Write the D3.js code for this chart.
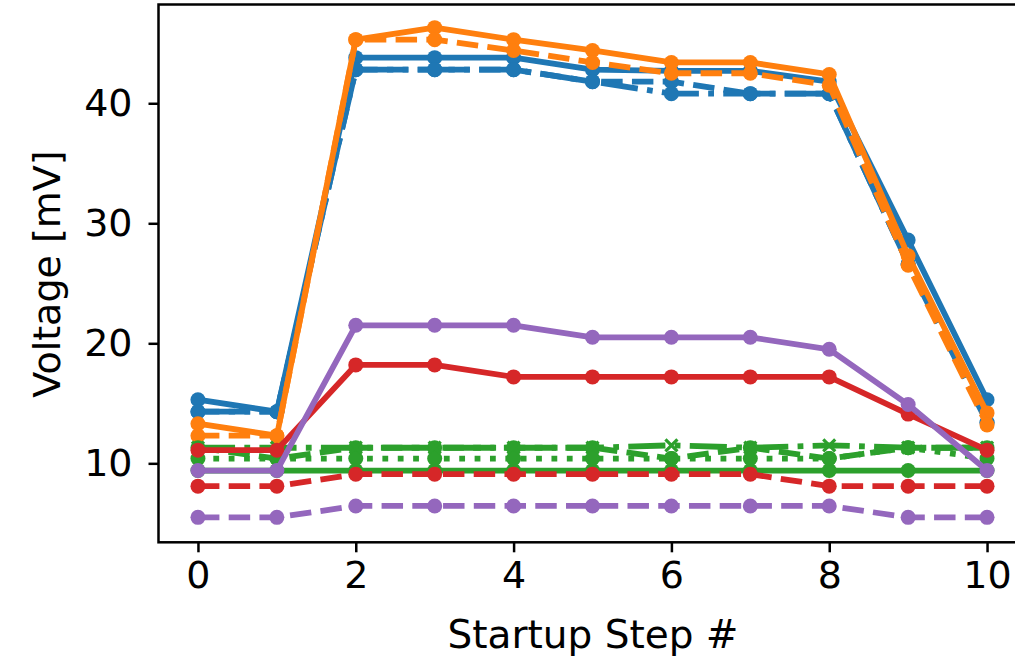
<!DOCTYPE html>
<html>
<head>
<meta charset="utf-8">
<script src="https://cdn.jsdelivr.net/npm/d3@7"></script>
<style>
  html, body { margin: 0; padding: 0; background: #fff; }
  svg { display: block; }
  text { font-family: "DejaVu Sans", sans-serif; fill: #000; }
</style>
</head>
<body>
<svg id="chart" width="1015" height="669"></svg>
<script>
// Startup step index
const steps = [0, 1, 2, 3, 4, 5, 6, 7, 8, 9, 10];

// Measured voltages [mV] per startup step
const blueSolid    = [15.3, 14.3, 43.8, 43.8, 43.8, 42.8, 42.7, 42.7, 41.8, 28.6, 15.3];
const blueDashed   = [14.3, 14.3, 42.8, 42.8, 42.8, 41.8, 41.8, 40.8, 40.8, 26.6, 13.4];
const blueDashDot  = [14.3, 14.3, 42.8, 42.8, 42.8, 41.8, 40.8, 40.8, 40.8, 26.6, 13.4];
const orangeSolid  = [13.3, 12.3, 45.3, 46.3, 45.3, 44.4, 43.4, 43.4, 42.4, 27.3, 14.2];
const orangeDashed = [12.3, 12.3, 45.3, 45.3, 44.4, 43.4, 42.5, 42.5, 41.5, 26.5, 13.2];
const greenSolid   = [9.4, 9.4, 9.4, 9.4, 9.4, 9.4, 9.4, 9.4, 9.4, 9.4, 9.4];
const greenDashed  = [11.3, 10.4, 11.3, 11.3, 11.3, 11.3, 10.4, 11.3, 10.4, 11.3, 11.3];
const greenDotted  = [10.4, 10.4, 10.4, 10.4, 10.4, 10.4, 10.4, 10.4, 10.4, 11.3, 10.4];
const greenDashDot = [11.3, 11.3, 11.3, 11.3, 11.3, 11.3, 11.5, 11.3, 11.5, 11.3, 11.3];
const redSolid     = [11.1, 11.1, 18.2, 18.2, 17.2, 17.2, 17.2, 17.2, 17.2, 14.1, 11.1];
const redDashed    = [8.1, 8.1, 9.1, 9.1, 9.1, 9.1, 9.1, 9.1, 8.1, 8.1, 8.1];
const purpleSolid  = [9.4, 9.4, 21.5, 21.5, 21.5, 20.5, 20.5, 20.5, 19.5, 14.9, 9.4];
const purpleDashed = [5.5, 5.5, 6.45, 6.45, 6.45, 6.45, 6.45, 6.45, 6.45, 5.5, 5.5];

const xTicks = [0, 2, 4, 6, 8, 10];
const yTicks = [10, 20, 30, 40];
const xLabel = "Startup Step #";
const yLabel = "Voltage [mV]";

const C = { blue: "#1f77b4", orange: "#ff7f0e", green: "#2ca02c", red: "#d62728", purple: "#9467bd" };
const LW = 5.8;
const DASH = { solid: null, dashed: [3.7 * LW, 1.6 * LW], dotted: [1 * LW, 1.65 * LW], dashdot: [6.4 * LW, 1.6 * LW, 1 * LW, 1.6 * LW] };

const series = [
  { v: blueSolid,    color: C.blue,   style: "solid",   marker: "o" },
  { v: blueDashed,   color: C.blue,   style: "dashed",  marker: "o" },
  { v: blueDashDot,  color: C.blue,   style: "dashdot", marker: "o" },
  { v: orangeSolid,  color: C.orange, style: "solid",   marker: "o" },
  { v: orangeDashed, color: C.orange, style: "dashed",  marker: "o" },
  { v: greenSolid,   color: C.green,  style: "solid",   marker: "o" },
  { v: greenDashed,  color: C.green,  style: "dashed",  marker: "o" },
  { v: greenDotted,  color: C.green,  style: "dotted",  marker: "o" },
  { v: greenDashDot, color: C.green,  style: "dashdot", marker: "x" },
  { v: redSolid,     color: C.red,    style: "solid",   marker: "o" },
  { v: redDashed,    color: C.red,    style: "dashed",  marker: "o" },
  { v: purpleSolid,  color: C.purple, style: "solid",   marker: "o" },
  { v: purpleDashed, color: C.purple, style: "dashed",  marker: "o" }
];

const svg = d3.select("#chart");
const plot = { left: 158.5, right: 1026.5, top: 4.5, bottom: 542.3 };

const x = d3.scaleLinear().domain([-0.5, 10.5]).range([plot.left, plot.right]);
const y = d3.scaleLinear().domain([3.42, 48.23]).range([plot.bottom, plot.top]);

svg.append("defs").append("clipPath").attr("id", "plotClip")
  .append("rect")
  .attr("x", plot.left).attr("y", plot.top)
  .attr("width", plot.right - plot.left).attr("height", plot.bottom - plot.top);

const g = svg.append("g").attr("clip-path", "url(#plotClip)");
const line = d3.line().x((d, i) => x(steps[i])).y(d => y(d));

series.forEach(s => {
  const grp = g.append("g");
  grp.append("path")
    .attr("d", line(s.v))
    .attr("fill", "none")
    .attr("stroke", s.color)
    .attr("stroke-width", LW)
    .attr("stroke-linejoin", "round")
    .attr("stroke-linecap", s.style === "solid" ? "round" : "butt")
    .attr("stroke-dasharray", DASH[s.style] ? DASH[s.style].join(",") : null);
  if (s.marker === "o") {
    grp.selectAll("circle").data(s.v).join("circle")
      .attr("cx", (d, i) => x(steps[i]))
      .attr("cy", d => y(d))
      .attr("r", 7.5)
      .attr("fill", s.color);
  } else {
    const h = 6;
    grp.selectAll("path.mk").data(s.v).join("path")
      .attr("class", "mk")
      .attr("d", (d, i) => {
        const cx = x(steps[i]), cy = y(d);
        return `M${cx - h},${cy - h}L${cx + h},${cy + h}M${cx - h},${cy + h}L${cx + h},${cy - h}`;
      })
      .attr("stroke", s.color)
      .attr("stroke-width", 3.2)
      .attr("fill", "none");
  }
});

// Axes
const xAxis = d3.axisBottom(x).tickValues(xTicks).tickSize(10).tickPadding(9).tickFormat(d3.format("d"));
const yAxis = d3.axisLeft(y).tickValues(yTicks).tickSize(10).tickPadding(16).tickFormat(d3.format("d"));

const gx = svg.append("g").attr("transform", `translate(0,${plot.bottom})`).call(xAxis);
const gy = svg.append("g").attr("transform", `translate(${plot.left},0)`).call(yAxis);

[gx, gy].forEach(a => {
  a.select(".domain").remove();
  a.selectAll(".tick line").attr("stroke", "#000").attr("stroke-width", 2.5);
  a.selectAll(".tick text").attr("font-family", "DejaVu Sans").attr("font-size", 38).attr("fill", "#000");
});
gx.selectAll(".tick text").attr("dy", "0.71em");

// Spines
const spine = svg.append("g").attr("stroke", "#000").attr("stroke-width", 2.5).attr("fill", "none");
spine.append("rect")
  .attr("x", plot.left).attr("y", plot.top)
  .attr("width", plot.right - plot.left).attr("height", plot.bottom - plot.top);

// Axis labels
svg.append("text")
  .attr("x", 593)
  .attr("y", 648)
  .attr("text-anchor", "middle")
  .attr("font-size", 39)
  .text(xLabel);

svg.append("text")
  .attr("transform", `translate(60,274) rotate(-90)`)
  .attr("text-anchor", "middle")
  .attr("font-size", 38)
  .text(yLabel);
</script>
</body>
</html>
